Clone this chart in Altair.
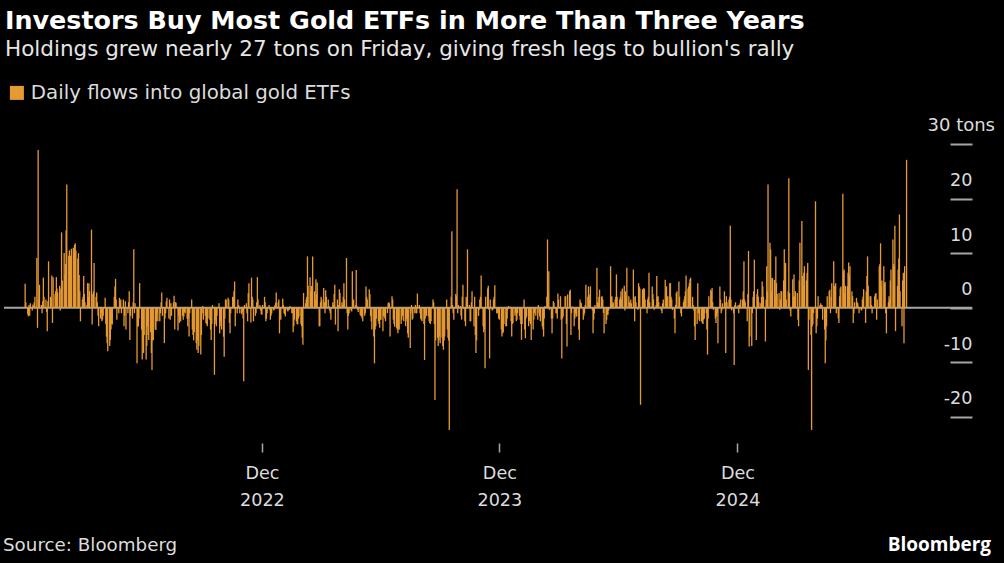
import altair as alt
import pandas as pd

TITLE = "Investors Buy Most Gold ETFs in More Than Three Years"
SUBTITLE = "Holdings grew nearly 27 tons on Friday, giving fresh legs to bullion's rally"
SERIES = "Daily flows into global gold ETFs"
SOURCE = "Source: Bloomberg"
BRAND = "Bloomberg"
LAST_DAY = "2025-08-18"
Y_TICKS = [-20, -10, 0, 10, 20, 30]
Y_TOP_LABEL = "30 tons"
X_TICK_YEARS = [2022, 2023, 2024]

# daily flows (tons), read left to right off the picture
seg1 = [4.4, 1.0, -1.2, -1.6, 0.5, -1.5, 0.8, -0.5, 0.6, 0.4, 1.0, 2.0, 9.1, -3.7, 28.9, 1.5, 4.2, 0.5, -1.0, 1.2,
        5.5, 2.0, 1.5, -0.8, -4.3, 1.2, 8.5, 2.0, 1.5, 5.9, -2.8, 5.6, 2.5, 3.0, 5.6, 3.5, 2.8, 4.0, -0.5, 3.5,
        13.8, 5.0, 10.0, 6.0, 8.0, 14.2, 22.6, 9.5, 10.5, 8.0, 9.5, 10.8, 11.0, 10.2, 11.5, 11.8, 10.5, 9.0, 10.0, 6.0,
        3.0, -2.5, 1.5, 2.0, 5.8, 2.5, 1.0, 0.5, 4.5, 2.0, 4.5, 3.0, 14.3, -3.1, 2.5, 3.0, 8.2, 2.0, 2.8, 1.0,
        -1.5, -3.4, -2.0, -1.0, -2.5, -2.2, -1.5, 1.8, -3.0, -5.3, -6.5, -8.0, -7.0, -5.9, -4.0, -3.0, -3.1, 2.0, 3.9, 5.3,
        1.5, -2.2, -1.0, 1.8, 1.0, 1.5, -1.0, 1.5, -3.4, -1.5, 1.2, -4.0, -1.0, 1.0, 3.0, -5.9, -1.5, -2.0, 1.0, 10.7,
        -1.0, 0.8, -10.2, -3.5, -3.4, -2.0, 4.5, -4.0, -9.5, -6.0, -8.3, -5.0, -9.5, -7.0, -3.4, -5.0, -5.9, -4.5, -8.3, -11.4,
        -6.0, -5.9, -4.0, -4.1, -2.5, -1.0, -2.5, -2.5, -1.0, 1.0, 2.8, -1.5, -6.5, -2.0, -1.0, 1.2, 1.8, -2.0]
seg2 = [1.5, -2.2, 0.8, -1.5, 1.0, 2.2, -4.0, 1.0, 0.9, -4.2, -1.5, -2.8, -1.0, -2.5, -1.5, -2.2, -1.6, -0.8, -1.0, -2.0,
        -3.4, -2.0, -5.3, -1.0, 1.5, -4.0, -5.0, -6.0, -4.5, -6.5, -7.7, -6.0, -8.3, -7.0, -8.6, -5.0, -1.0, 0.3, -2.2, -1.5,
        -2.8, -3.0, -3.4, -2.0, -2.2, -4.0, -5.9, -3.0, 0.5, -12.3, -3.0, -2.2, -3.4, -1.5, 0.8, -4.7, -2.5, -3.4, -4.0, -5.3,
        -9.0, -2.0, 1.5, 1.5, 1.8, 1.5, -2.8, -4.7, -1.0, 2.0, 1.8, 3.0, 4.8, -3.4, -1.0, 1.5, 0.5, 0.2, -1.0, -1.2,
        -0.8, -2.0, -13.5, 0.5, 0.8, -1.0, -2.5, 2.7, 4.5, -2.7, 5.5, 2.0, 1.5, -2.5, -1.5, -1.0, 1.0, 5.6, 1.5, 0.5,
        -0.5, -1.2, -1.3, 0.5, 2.0, 1.0, -2.5, -2.0, -1.0, 0.5, -0.4, -2.2, -1.5, -1.0, -0.5, -0.4, 0.5, 0.9, 2.8, 1.0,
        1.5, -4.7, -2.0, -2.2, 1.7, 0.5, -1.0, -1.2, -1.6, -0.5, -0.7, -0.4, -0.4, 0.3, -1.0, -1.0, -4.5, -3.4, -2.2, -2.5,
        -3.0, -3.1, -2.0, -1.6, -3.0, -3.4, -5.5, -6.8, 2.7, 0.8, 1.5, 2.0, 9.4, 4.0, 5.6, 3.0, 4.0, 2.0, 9.4, 3.0,
        1.5, 5.2, 2.5, 4.6, -3.4]
seg3 = [-3.4, 1.0, 2.0, 1.5, 3.6, 1.0, -1.0, 3.2, 2.0, 1.5, 0.3, -0.5, -1.0, -2.2, 1.0, 0.5, 2.5, 4.2, -3.1, 1.5,
        -4.3, 0.5, 3.4, 2.7, 1.0, 0.5, 2.0, 4.5, 1.5, 9.1, -1.0, -4.0, -1.5, -1.0, -0.5, -0.7, 6.7, 1.0, 1.5, 0.5,
        6.9, 0.3, -0.4, -0.8, -1.3, -1.5, -1.6, -2.0, -2.5, -1.5, -1.0, 3.9, 2.0, 1.5, 3.4, 2.5, -1.5, -2.5, -4.0, -5.3,
        -10.2, -4.0, -3.4, -2.0, -2.5, -3.0, -3.7, -2.2, -2.2, -4.3, -1.5, -1.6, -2.0, -2.5, -1.0, 0.8, 1.0, 0.8, -5.3, 2.1,
        1.5, -2.2, -3.0, -3.5, -3.7, -4.0, -4.7, -4.0, -4.0, -3.0, -2.2, -1.5, -1.0, -2.5, -3.4, -2.0, -2.5, -4.7, -5.5, -7.4,
        -1.0, 0.5, -2.2, -2.0, -1.0, 0.5, -1.0, -1.0, 2.6, 0.5, -1.0, -2.0, -2.2, -2.5, -3.0, -9.6, -2.0, -1.0, -1.5, -1.6,
        -2.5, -2.8, -3.0, -2.5, 1.5, 1.0, -3.0, -16.9, -6.0, -5.5, -7.0, -6.0, -5.3, -6.5, -5.5, -7.0, -7.7, -6.0, -5.3, 1.5,
        -4.0, -5.5, -6.0, -22.4, 2.0, 14.0, 0.5, -1.0, -2.2, 2.5, 2.1, 21.7, -1.0, 0.5, 0.3, -1.5, -2.2, 2.0, 4.2, -2.5,
        -3.4, 2.0, 1.5, 10.7, 0.5]
seg4 = [-2.5, -2.5, 1.0, 3.0, -3.4, 2.0, -5.0, -8.3, -6.0, -1.5, -0.4, 1.5, 2.0, 5.9, -3.4, -4.5, -4.0, -11.1, 2.0, 3.5,
        4.0, -0.4, -9.3, 1.5, -0.5, -0.4, 1.5, 2.0, 4.1, -1.0, -1.0, -1.0, -2.0, -2.2, -4.0, -5.3, -4.7, -4.5, -3.0, -3.4,
        -3.4, -2.0, -0.4, 0.3, 0.2, -2.5, -5.3, -3.0, -2.8, -1.5, -1.0, -2.5, -2.2, -1.0, -1.5, -2.2, -3.0, -5.9, -3.0, 1.5,
        -4.0, -5.6, -2.0, -1.6, -3.4, -2.5, -1.0, -3.0, -5.9, -4.0, -2.2, -1.0, -0.4, -1.5, -2.2, 0.5, -1.0, -1.6, -2.5, -3.4,
        -4.0, -5.3, -2.0, 0.3, 2.0, 12.5, 3.0, 6.7, -0.4, -2.0, -4.7, -2.0, 1.2, 0.9, -1.0, -1.0, -2.0, 2.6, 1.5, 2.1,
        -2.2, -9.3, -2.0, -1.6, 2.1, 2.1, -3.0, -7.1, 2.4, 3.0, 3.3, -5.0, -1.0, 0.2, -3.4, -2.0, -1.0, -1.6, -1.6, -4.0,
        -5.9, 1.5, 1.0, 0.8, -2.2, -1.5, -1.0, 0.5, 4.2, 2.0, 3.9, 2.4, 1.5, 3.9, -0.5, -4.7, -2.2, -1.0, 0.5, 7.3,
        1.0, 0.8, 2.0, 3.3, 2.0, 2.1, 1.5, -1.0, -4.7, -3.0, -2.2, -1.3, -1.3, -0.5, 7.6, 2.0, 2.1, 0.8, 1.0, 1.5,
        2.0, 6.1, 2.0, 0.2, 1.5]
seg5 = [2.0, 3.0, 1.5, 3.5, 4.0, -0.5, 3.0, 2.2, 7.3, 2.1, 1.0, -0.1, 1.5, 0.8, 7.0, 2.0, -2.5, 2.1, 1.0, -0.4,
        4.5, 3.9, 3.5, -17.8, 3.4, 3.0, 3.6, 3.4, 1.5, -1.0, 1.5, 2.0, 6.4, 1.0, 0.2, 3.9, 2.5, 1.5, -0.4, 0.5,
        5.8, 2.0, 2.1, 1.0, 0.2, -0.5, -1.0, 0.8, 1.5, 5.1, 3.0, 3.9, 2.0, 2.1, 4.5, 4.5, 2.0, 1.5, -0.4, -2.0,
        -4.7, 0.5, 2.7, 3.0, 4.8, 2.0, 0.2, -1.0, -1.6, 1.0, 1.5, 2.1, 3.0, 5.9, 3.5, 3.9, 4.5, 5.2, 5.5, 2.0,
        0.5, -0.5, -3.4, -5.9, -3.0, 4.5, -1.0, -2.2, -2.5, -2.5, -2.8, -3.0, -2.2, -2.0, -1.0, -4.0, -8.6, -2.0, 2.1, 3.3,
        3.0, 3.6, 1.0, -0.4, -2.0, -2.8, -1.6, -1.0, -6.5, 3.9, 1.5, -1.0, -0.5, 0.8, 3.0, 1.0, -8.3, 2.1, 1.0, 1.5,
        2.0, 15.0, 1.5, -0.5, -1.0, -10.5, 0.5, 1.0, 0.2, 0.5, -1.0, 0.5, 0.8, 1.5, 1.5, 3.0, 8.5, 1.5, 1.0, -2.5,
        2.5, 10.4, -7.1, -5.3, -7.0, -1.0, 2.0, 3.0, 8.8, -5.9, 2.5, 3.4, 2.0, 1.0, 0.8, 2.0, 4.8, 3.9, 2.0, -6.2,
        1.5, 7.6, 3.0, 22.6, 11.9]
seg6 = [10.7, 3.0, 5.5, 5.4, 5.1, 2.0, 9.4, 4.5, 2.5, 2.7, -0.4, 1.5, 3.0, 3.0, 5.0, 10.7, 7.0, 8.2, 1.5, 3.0,
        23.7, 2.7, -0.5, -1.6, 5.2, 2.0, 6.1, 2.1, 3.0, 2.7, -2.2, -3.4, 5.0, 11.9, 15.9, 5.8, 4.0, 6.4, 7.6, 5.0,
        6.4, 8.2, -11.4, -2.2, -5.0, -22.4, -3.4, -3.0, -1.0, 19.5, -4.7, -3.4, -2.0, 2.1, 0.5, 0.8, 0.5, 0.5, -2.2, -4.0,
        -10.2, -6.0, -3.4, 2.1, 3.0, 3.3, -1.0, 2.0, 4.5, 8.5, 4.0, 3.0, 4.5, -1.0, -2.0, -2.8, 2.1, 3.5, 3.9, 20.9,
        6.7, 7.0, 2.7, 4.0, 3.9, 6.4, 8.3, 6.0, 7.6, 3.0, 2.1, -2.8, -1.0, 1.0, 1.8, 1.0, 0.8, 0.2, -1.0, -0.4,
        -0.5, 1.5, 2.0, 3.4, -2.8, 3.0, 5.8, 9.4, 4.0, 2.1, 2.1, 0.5, -1.0, 0.2, 2.1, 2.5, 2.7, -2.2, 1.5, 7.6,
        8.0, 11.8, 3.9, 5.0, 7.6, 4.5, 4.7, -1.0, -4.7, 1.0, 2.1, 1.5, 5.0, 7.0, 12.5, 8.0, 7.6, 15.0, -4.3, 4.0,
        7.0, 9.0, 17.1, 3.0, -3.4, 5.0, 6.4, -6.5, 7.6, 27.1]

flows = seg1 + seg2 + seg3 + seg4 + seg5 + seg6
dates = pd.bdate_range(end=LAST_DAY, periods=len(flows))
df = pd.DataFrame({"date": dates.strftime("%Y-%m-%d"), "tons": flows, "series": SERIES})

ORANGE = "#E69A33"
GREY = "#a6a6a6"
LABEL = "#dcdcdc"
FONT = "DejaVu Sans"
W, H = 946, 299

xscale = alt.Scale(type="utc", padding=0,
                   domain=[alt.DateTime(year=2021, month=10, date=30, hours=12, utc=True),
                           alt.DateTime(year=2025, month=10, date=23, hours=18, utc=True)])
yscale = alt.Scale(domain=[-24.8, 30], nice=False, zero=False)

xaxis = alt.Axis(
    values=[alt.DateTime(year=y, month=12, date=1, utc=True) for y in X_TICK_YEARS],
    domain=False, grid=False, tickSize=9, tickWidth=1.5, tickColor=GREY,
    labelExpr="[utcFormat(datum.value, '%b'), utcFormat(datum.value, '%Y')]",
    labelFont=FONT, labelFontSize=17.6, labelLineHeight=27, labelColor=LABEL,
    labelPadding=12, labelFlush=False, title=None,
)
yaxis = alt.Axis(
    orient="right", values=Y_TICKS, domain=False, grid=False,
    tickSize=22, tickWidth=2, tickColor=GREY,
    labelAlign="right", labelBaseline="alphabetic", labelOffset=-13, labelPadding=0,
    labelExpr="datum.value == 30 ? '' : toString(datum.value)",
    labelFont=FONT, labelFontSize=17.6, labelColor=LABEL,
    labelFlush=False, labelOverlap=False, labelBound=False, title=None,
)

zero = alt.Chart(pd.DataFrame({"v": [0]})).mark_rule(color=GREY, strokeWidth=2).encode(
    y=alt.Y("v:Q", scale=yscale, axis=yaxis), x=alt.value(0), x2=alt.value(W + 22)
)

bars = alt.Chart(df).mark_bar(size=1.3).encode(
    x=alt.X("date:T", scale=xscale, axis=xaxis),
    y=alt.Y("tons:Q", scale=yscale, axis=yaxis),
    color=alt.Color("series:N", scale=alt.Scale(range=[ORANGE]),
                    legend=alt.Legend(title=None, orient="none", legendX=3, legendY=-61,
                                      symbolType="square", symbolSize=196, symbolStrokeWidth=0,
                                      labelFont=FONT, labelFontSize=19.8, labelColor=LABEL,
                                      labelOffset=4, labelLimit=0, padding=0)),
)

top_label = alt.Chart(pd.DataFrame({"v": [30], "t": [Y_TOP_LABEL]})).mark_text(
    align="right", baseline="alphabetic", dy=-13, font=FONT, fontSize=18, color=LABEL
).encode(y=alt.Y("v:Q", scale=yscale, axis=yaxis), text="t:N", x=alt.value(W + 45))

src = alt.Chart(pd.DataFrame({"t": [SOURCE]})).mark_text(
    align="left", baseline="alphabetic", font=FONT, fontSize=18.3, color=LABEL
).encode(text="t:N", x=alt.value(-1), y=alt.value(407))

brand = alt.Chart(pd.DataFrame({"t": [BRAND]})).mark_text(
    align="right", baseline="alphabetic", font="Open Sans", fontSize=19, fontWeight="bold", color="#ffffff"
).encode(text="t:N", x=alt.value(987), y=alt.value(407))

chart = alt.layer(zero, bars, top_label, src, brand).properties(
    width=W, height=H,
    autosize="none",
    padding={"left": 4, "top": 144, "right": 54, "bottom": 120},
    background="#000000",
    title=alt.TitleParams(
        text=TITLE, subtitle=SUBTITLE, anchor="start", frame="group",
        font=FONT, fontSize=25.4, fontWeight="bold", color="#ffffff",
        subtitleFont=FONT, subtitleFontSize=21.5, subtitleColor="#e6e6e6",
        subtitlePadding=5, offset=22.5, dx=1,
    ),
).configure_view(stroke=None)

chart.save("out.html", embed_options={"renderer": "svg", "actions": False})
